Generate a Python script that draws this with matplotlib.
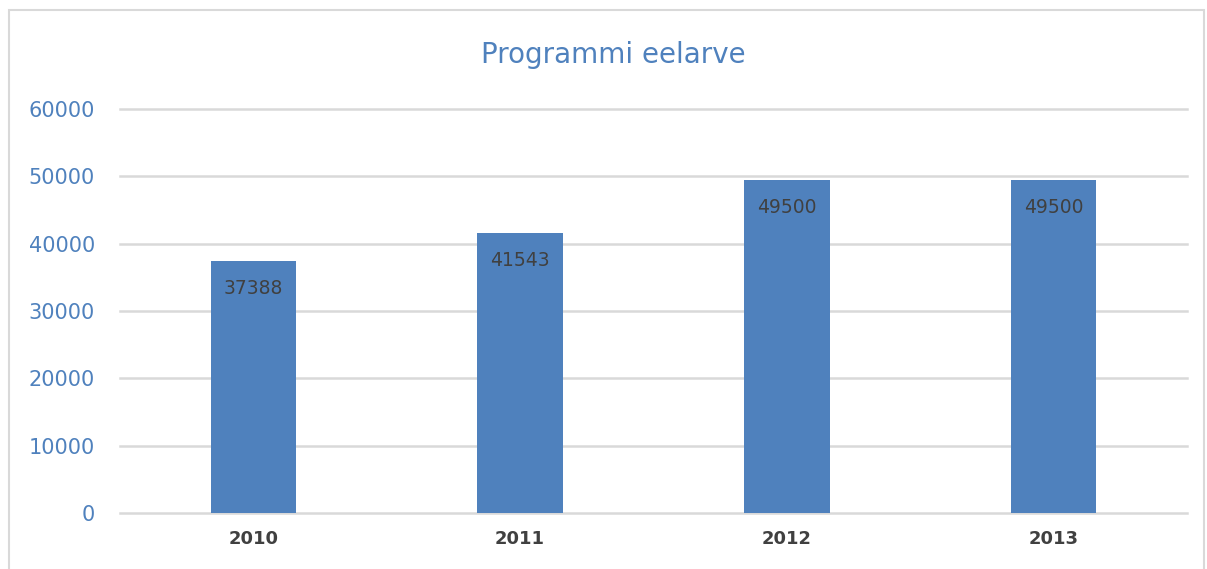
import matplotlib.pyplot as plt
from matplotlib.patches import Rectangle

years = ['2010', '2011', '2012', '2013']
values = [37388, 41543, 49500, 49500]
yticks = [0, 10000, 20000, 30000, 40000, 50000, 60000]

bar_color = '#4F81BD'
blue_text = '#4F81BD'
grid_color = '#D9D9D9'

fig = plt.figure(figsize=(12.07, 5.69), dpi=100)
ax = fig.add_axes([0.0994, 0.0984, 0.8840, 0.7100])

x = range(len(years))
bars = ax.bar(x, values, width=0.32, color=bar_color, zorder=3)
for xi, v in zip(x, values):
    ax.text(xi, v - 4100, str(v), ha='center', va='center',
            fontsize=13.5, color='#404040', zorder=4)

ax.set_xlim(-0.5, 3.5)
ax.set_ylim(0, 60000)
ax.set_yticks(yticks)
ax.set_yticklabels([str(t) for t in yticks])
ax.set_xticks(list(x))
ax.set_xticklabels(years)
ax.grid(axis='y', color=grid_color, linewidth=1.8, zorder=0)
for gl in ax.get_ygridlines():
    gl.set_clip_on(False)
for s in ax.spines.values():
    s.set_visible(False)
ax.tick_params(axis='both', length=0)
ax.tick_params(axis='y', labelsize=15, labelcolor=blue_text, pad=18)
ax.tick_params(axis='x', labelsize=13, labelcolor='#404040', pad=12)
for lbl in ax.get_xticklabels():
    lbl.set_fontweight('bold')

fig.text(0.508, 0.903, 'Programmi eelarve', ha='center', va='center',
         fontsize=20, color=blue_text)

fig.patches.append(Rectangle((0.0075, -0.01), 0.99, 0.992, transform=fig.transFigure,
                             fill=False, edgecolor='#D9D9D9', linewidth=1.5))

fig.savefig('out.png', dpi=100)
